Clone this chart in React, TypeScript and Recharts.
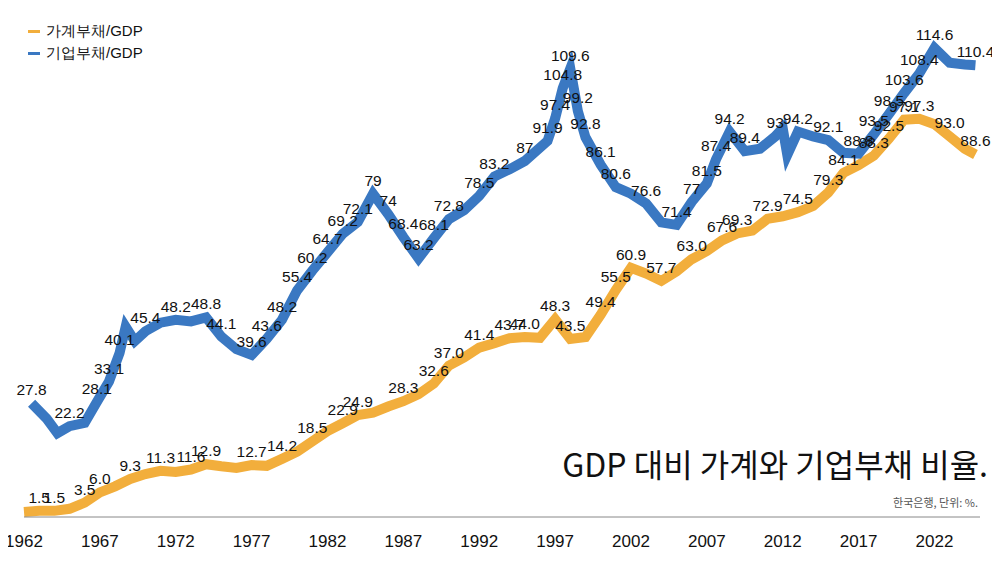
import { LineChart, Line, XAxis, YAxis } from "recharts";

// [year, value, labelled?]
const household: [number, number, number][] = [
  [1962, 1.2, 0], [1963, 1.5, 1], [1964, 1.5, 1], [1965, 2.0, 0], [1966, 3.5, 1], [1967, 6.0, 1],
  [1968, 7.5, 0], [1969, 9.3, 1], [1970, 10.5, 0], [1971, 11.3, 1], [1972, 11.0, 0], [1973, 11.6, 1],
  [1974, 12.9, 1], [1975, 12.4, 0], [1976, 12.0, 0], [1977, 12.7, 1], [1978, 12.5, 0], [1979, 14.2, 1],
  [1980, 16.0, 0], [1981, 18.5, 1], [1982, 21.0, 0], [1983, 22.9, 1], [1984, 24.9, 1], [1985, 25.5, 0],
  [1986, 27.0, 0], [1987, 28.3, 1], [1988, 30.0, 0], [1989, 32.6, 1], [1990, 37.0, 1], [1991, 39.0, 0],
  [1992, 41.4, 1], [1993, 42.5, 0], [1994, 43.7, 1], [1995, 44.0, 1], [1996, 43.8, 0], [1997, 48.3, 1],
  [1998, 43.5, 1], [1999, 44.0, 0], [2000, 49.4, 1], [2001, 55.5, 1], [2002, 60.9, 1], [2003, 59.5, 0],
  [2004, 57.7, 1], [2005, 60.0, 0], [2006, 63.0, 1], [2007, 65.0, 0], [2008, 67.6, 1], [2009, 69.3, 1],
  [2010, 70.0, 0], [2011, 72.9, 1], [2012, 73.5, 0], [2013, 74.5, 1], [2014, 76.0, 0], [2015, 79.3, 1],
  [2016, 84.1, 1], [2017, 86.0, 0], [2018, 88.3, 1], [2019, 92.5, 1], [2020, 97.1, 1], [2021, 97.3, 1],
  [2022, 96.0, 0], [2023, 93.0, 1], [2024, 90.0, 0], [2024.7, 88.6, 1],
];

const corporate: [number, number, number][] = [
  [1962.5, 27.8, 1], [1963.5, 24.0, 0], [1964.2, 20.5, 0], [1965, 22.2, 1], [1966, 23.0, 0],
  [1966.8, 28.1, 1], [1967.6, 33.1, 1], [1968.3, 40.1, 1], [1968.7, 46.5, 0], [1969.3, 43.0, 0],
  [1970, 45.4, 1], [1971, 47.5, 0], [1972, 48.2, 1], [1973, 47.8, 0], [1974, 48.8, 1], [1975, 44.1, 1],
  [1976, 41.0, 0], [1977, 39.6, 1], [1978, 43.6, 1], [1979, 48.2, 1], [1980, 55.4, 1], [1981, 60.2, 1],
  [1982, 64.7, 1], [1983, 69.2, 1], [1984, 72.1, 1], [1985, 79.0, 1], [1986, 74.0, 1], [1987, 68.4, 1],
  [1988, 63.2, 1], [1989, 68.1, 1], [1990, 72.8, 1], [1991, 75.0, 0], [1992, 78.5, 1], [1993, 83.2, 1],
  [1994, 85.0, 0], [1995, 87.0, 1], [1996.5, 91.9, 1], [1997, 97.4, 1], [1997.5, 104.8, 1],
  [1998, 109.6, 1], [1998.5, 99.2, 1], [1999, 92.8, 1], [2000, 86.1, 1], [2001, 80.6, 1], [2002, 79.0, 0],
  [2003, 76.6, 1], [2004, 72.0, 0], [2005, 71.4, 1], [2006, 77.0, 1], [2007, 81.5, 1], [2007.6, 87.4, 1],
  [2008.5, 94.2, 1], [2009.5, 89.4, 1], [2010.5, 90.0, 0], [2011.5, 93.0, 1], [2012, 95.0, 0],
  [2012.3, 88.5, 0], [2013, 94.2, 1], [2014, 93.0, 0], [2015, 92.1, 1], [2016, 89.0, 0], [2017, 88.8, 1],
  [2018, 93.5, 1], [2019, 98.5, 1], [2020, 103.6, 1], [2021, 108.4, 1], [2022, 114.6, 1], [2023, 111.0, 0],
  [2024, 110.6, 0], [2024.7, 110.4, 1],
];

const yearTicks = [1962, 1967, 1972, 1977, 1982, 1987, 1992, 1997, 2002, 2007, 2012, 2017, 2022];

const toRows = (arr: [number, number, number][], fixed: boolean) =>
  arr.map(([x, v, s]) => ({ x, v, s, t: fixed ? v.toFixed(1) : String(v) }));
const householdRows = toRows(household, true);
const corporateRows = toRows(corporate, false);

const FONT = "'Liberation Sans', Arial, sans-serif";
const YELLOW = "#F2AE3C";
const BLUE = "#3A78C2";

const makeLabel = (rows: { s: number; t: string }[]) => (props: any) => {
  const { x, y, index } = props;
  const row = rows[index];
  if (!row || !row.s) return null;
  return (
    <text x={x} y={y - 8} textAnchor="middle" fontSize={15.5} fontFamily={FONT} fill="#111">
      {row.t}
    </text>
  );
};

export default function App() {
  return (
    <div style={{ position: "relative", width: 1000, height: 563, margin: -8, background: "#fff", fontFamily: FONT }}>
      <LineChart width={1000} height={563} margin={{ top: 26, right: 20, bottom: 0, left: 24 }}>
        <XAxis
          type="number"
          dataKey="x"
          domain={[1962, 2025]}
          ticks={yearTicks}
          height={46}
          tickLine={false}
          axisLine={{ stroke: "#888" }}
          tick={{ fontSize: 17, fill: "#111", fontFamily: FONT }}
          tickMargin={12}
          allowDuplicatedCategory={false}
        />
        <YAxis hide domain={[0, 120]} />
        <Line data={householdRows} dataKey="v" stroke={YELLOW} strokeWidth={10} dot={false}
          isAnimationActive={false} label={makeLabel(householdRows)} />
        <Line data={corporateRows} dataKey="v" stroke={BLUE} strokeWidth={10} dot={false}
          isAnimationActive={false} label={makeLabel(corporateRows)} />
      </LineChart>
      <div style={{ position: "absolute", left: 28, top: 20, fontSize: 15, color: "#111", lineHeight: "22px" }}>
        <div style={{ display: "flex", alignItems: "center", gap: 6 }}>
          <span style={{ width: 12, height: 3, background: YELLOW, display: "inline-block" }} />가계부채/GDP
        </div>
        <div style={{ display: "flex", alignItems: "center", gap: 6 }}>
          <span style={{ width: 12, height: 3, background: BLUE, display: "inline-block" }} />기업부채/GDP
        </div>
      </div>
      <div style={{ position: "absolute", right: 12, top: 440, fontSize: 32, color: "#111", fontFamily: "'Noto Sans CJK KR', sans-serif" }}>
        GDP 대비 가계와 기업부채 비율.
      </div>
      <div style={{ position: "absolute", right: 22, top: 494, fontSize: 11, color: "#555", fontFamily: "'Noto Sans CJK KR', sans-serif" }}>
        한국은행, 단위: %.
      </div>
    </div>
  );
}
